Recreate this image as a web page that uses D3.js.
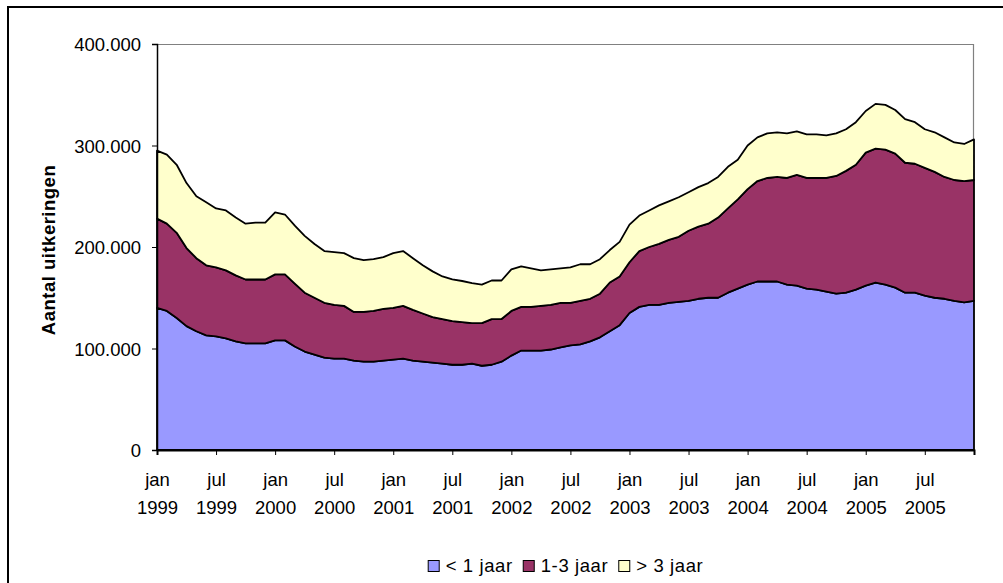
<!DOCTYPE html>
<html>
<head>
<meta charset="utf-8">
<script src="https://cdn.jsdelivr.net/npm/d3@7"></script>
<style>
  body { margin: 0; background: #fff; }
  text { font-family: "Liberation Sans", Arial, sans-serif; fill: #000; }
</style>
</head>
<body>
<div class="chart"></div>
<script>
// Monthly counts jan 1999 - dec 2005
var months = d3.timeMonths(new Date(1999, 0, 1), new Date(2006, 0, 1));
var monthNames = ["jan", "feb", "mrt", "apr", "mei", "jun", "jul", "aug", "sep", "okt", "nov", "dec"];
var categories = months.map(function(d) { return monthNames[d.getMonth()] + " " + d.getFullYear(); });

var seriesNames = ["< 1 jaar", "1-3 jaar", "> 3 jaar"];
var seriesColors = ["#9999FF", "#993366", "#FFFFCC"];

var kort = [140000, 137000, 130000, 122000, 117000, 113000, 112000, 110000, 107000, 105000, 105000, 105000,
            108000, 108000, 102000, 97000, 94000, 91000, 90000, 90000, 88000, 87000, 87000, 88000,
            89000, 90000, 88000, 87000, 86000, 85000, 84000, 84000, 85000, 83000, 84000, 87000,
            93000, 98000, 98000, 98000, 99000, 101000, 103000, 104000, 107000, 111000, 117000, 123000,
            135000, 141000, 143000, 143000, 145000, 146000, 147000, 149000, 150000, 150000, 155000, 159000,
            163000, 166000, 166000, 166000, 163000, 162000, 159000, 158000, 156000, 154000, 155000, 158000,
            162000, 165000, 163000, 160000, 155000, 155000, 152000, 150000, 149000, 147000, 145500, 147000];

var middel = [88000, 86000, 84000, 77000, 72000, 69000, 68000, 67000, 65000, 63000, 63000, 63000,
              65000, 65000, 62000, 58000, 56000, 54000, 53000, 52000, 48000, 49000, 50000, 51000,
              51000, 52000, 50000, 47500, 45000, 44000, 43000, 42000, 40000, 42000, 45000, 42000,
              44000, 43000, 43000, 44000, 44000, 44000, 42000, 43000, 42000, 43000, 48000, 48000,
              50000, 55000, 57000, 60000, 62000, 64000, 69000, 71000, 73000, 79000, 83000, 88000,
              94000, 99000, 102000, 103000, 105000, 109000, 109000, 110000, 112000, 116000, 120000, 123000,
              131000, 132000, 133000, 132000, 128000, 127000, 126000, 124000, 120000, 119000, 119500, 119000];

var lang = [67000, 68000, 67000, 64000, 61000, 62000, 58000, 59000, 57000, 55000, 56000, 56000,
            61000, 59000, 57000, 56000, 53000, 51000, 52000, 52000, 53000, 51000, 51000, 51000,
            54000, 54000, 51000, 47500, 45000, 42000, 41000, 40500, 39500, 38000, 38000, 38000,
            41000, 40000, 38000, 35000, 35000, 34000, 35000, 36000, 34000, 34000, 32000, 34000,
            37000, 35000, 36000, 38000, 38000, 39000, 38000, 39000, 40000, 40000, 41000, 39000,
            43000, 43000, 44000, 44000, 44000, 43000, 43000, 43000, 42000, 42000, 41000, 42000,
            41000, 44000, 44000, 43000, 43000, 41000, 38000, 39000, 39000, 37000, 36500, 40000];

var yTicks = [0, 100000, 200000, 300000, 400000];

var rows = categories.map(function(c, i) {
    return { cat: c, k0: kort[i], k1: middel[i], k2: lang[i] };
});

var svgWidth = 1003;
var svgHeight = 583;
var plot = { left: 157, top: 44, right: 974, bottom: 450 };

var nl = d3.formatLocale({ decimal: ",", thousands: ".", grouping: [3], currency: ["", ""] });
var fmt = nl.format(",");

var svg = d3.select(".chart")
    .append("svg")
    .attr("width", svgWidth)
    .attr("height", svgHeight);

// outer frame (runs past the window on right and bottom)
svg.append("rect")
    .attr("x", 8)
    .attr("y", 7)
    .attr("width", 1100)
    .attr("height", 700)
    .attr("fill", "none")
    .attr("stroke", "#000")
    .attr("stroke-width", 2);

var x = d3.scalePoint().domain(categories).range([plot.left, plot.right]);
var y = d3.scaleLinear().domain([0, 400000]).range([plot.bottom, plot.top]);

// plot border top and right
svg.append("path")
    .attr("d", "M" + plot.left + "," + (plot.top + 0.5) + "H" + (plot.right - 0.5) + "V" + plot.bottom)
    .attr("fill", "none")
    .attr("stroke", "#808080")
    .attr("stroke-width", 1.2);

var stack = d3.stack().keys(["k0", "k1", "k2"]);
var layers = stack(rows);

var area = d3.area()
    .x(function(d) { return x(d.data.cat); })
    .y0(function(d) { return y(d[0]); })
    .y1(function(d) { return y(d[1]); });

svg.append("g")
    .selectAll("path")
    .data(layers)
    .enter()
    .append("path")
    .attr("d", area)
    .attr("fill", function(d, i) { return seriesColors[i]; })
    .attr("stroke", "#000")
    .attr("stroke-width", 1.8)
    .attr("stroke-linejoin", "round");

// y axis
var yAxis = svg.append("g")
    .attr("transform", "translate(" + plot.left + ",0)")
    .call(d3.axisLeft(y).tickValues(yTicks).tickSize(5).tickPadding(11).tickFormat(fmt));
yAxis.select(".domain").attr("stroke-width", 1.5);
yAxis.selectAll("text")
    .style("font-size", "18.5px")
    .attr("dy", "0.36em");

// x axis
var xTickCats = categories.filter(function(c, i) { return i % 6 === 0; });
var xAxis = svg.append("g")
    .attr("transform", "translate(0," + plot.bottom + ")")
    .call(d3.axisBottom(x).tickValues(xTickCats).tickSize(5).tickFormat(""));
xAxis.select(".domain").attr("stroke-width", 2);

xAxis.selectAll(".tick").each(function(c) {
    var parts = c.split(" ");
    var t = d3.select(this).append("text")
        .attr("text-anchor", "middle")
        .style("font-size", "18.5px")
        .attr("fill", "#000");
    t.append("tspan").attr("x", 0).attr("y", 36).text(parts[0]);
    t.append("tspan").attr("x", 0).attr("y", 64).text(parts[1]);
});

// axis title
svg.append("text")
    .attr("transform", "translate(55," + ((plot.top + plot.bottom) / 2 + 3) + ") rotate(-90)")
    .attr("text-anchor", "middle")
    .style("font-size", "18.5px")
    .style("font-weight", "bold")
    .style("letter-spacing", "0.5px")
    .text("Aantal uitkeringen");

// legend
var legend = svg.append("g");
var lx = 0;
seriesNames.forEach(function(name, i) {
    var g = legend.append("g").attr("transform", "translate(" + lx + ",0)");
    g.append("rect")
        .attr("x", 0.5)
        .attr("y", 560.5)
        .attr("width", 11)
        .attr("height", 11)
        .attr("fill", seriesColors[i])
        .attr("stroke", "#000")
        .attr("stroke-width", 1);
    var t = g.append("text")
        .attr("x", 18)
        .attr("y", 572)
        .style("font-size", "18.5px")
        .style("letter-spacing", "0.6px")
        .text(name);
    lx += 18 + t.node().getComputedTextLength() + 10;
});
var legendW = lx - 10;
legend.attr("transform", "translate(" + ((plot.left + plot.right) / 2 - legendW / 2) + ",0)");
</script>
</body>
</html>
